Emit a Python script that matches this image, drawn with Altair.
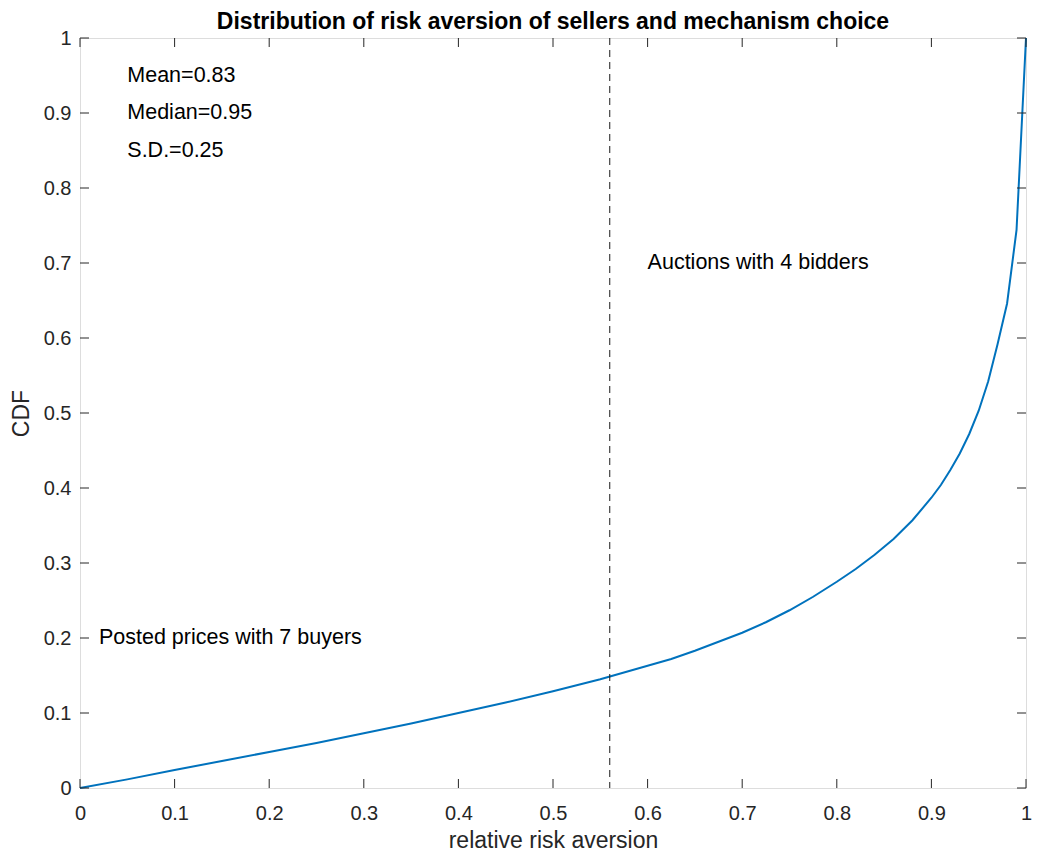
import altair as alt
import pandas as pd

# ---- data ----
risk_aversion = [0.0, 0.05, 0.10, 0.15, 0.20, 0.25, 0.30, 0.35, 0.40, 0.45, 0.50,
                 0.55, 0.60, 0.625, 0.65, 0.675, 0.70, 0.725, 0.75, 0.775, 0.80,
                 0.82, 0.84, 0.86, 0.88, 0.90, 0.91, 0.92, 0.93, 0.94, 0.95,
                 0.96, 0.97, 0.98, 0.99, 1.00]
cdf = [0.0, 0.0115, 0.024, 0.036, 0.048, 0.060, 0.073, 0.086, 0.100, 0.114, 0.129,
       0.145, 0.163, 0.172, 0.183, 0.195, 0.207, 0.221, 0.237, 0.255, 0.275,
       0.292, 0.311, 0.332, 0.357, 0.387, 0.404, 0.424, 0.446, 0.472, 0.503,
       0.542, 0.592, 0.646, 0.744, 1.0]

threshold = [0.56]

tick_values = [0.0, 0.1, 0.2, 0.3, 0.4, 0.5, 0.6, 0.7, 0.8, 0.9, 1.0]

note_text = ["Mean=0.83", "Median=0.95", "S.D.=0.25",
             "Auctions with 4 bidders", "Posted prices with 7 buyers"]
note_x = [0.05, 0.05, 0.05, 0.60, 0.02]
note_y = [0.95, 0.90, 0.85, 0.70, 0.20]

title_text = "Distribution of risk aversion of sellers and mechanism choice"
x_title = "relative risk aversion"
y_title = "CDF"

W, H = 946, 750
TICK = 9
FONT = "Liberation Sans"
GRAY = "#262626"

curve_df = pd.DataFrame({"x": risk_aversion, "y": cdf})
thr_df = pd.DataFrame({"x": threshold})
ticks_df = pd.DataFrame({"t": tick_values})
notes_df = pd.DataFrame({"label": note_text, "x": note_x, "y": note_y})

xscale = alt.Scale(domain=[0, 1], nice=False, zero=False)
yscale = alt.Scale(domain=[0, 1], nice=False, zero=False)

x_axis = alt.Axis(values=tick_values, format="~g", ticks=False, domain=False,
                  grid=False, labelFontSize=20, labelColor=GRAY, labelFont=FONT,
                  labelPadding=15, title=x_title, titleFont=FONT, titleFontSize=23,
                  titleFontWeight="normal", titleColor=GRAY, titlePadding=6,
                  labelFlush=False)
y_axis = alt.Axis(values=tick_values, format="~g", ticks=False, domain=False,
                  grid=False, labelFontSize=20, labelColor=GRAY, labelFont=FONT,
                  labelPadding=9, title=y_title, titleFont=FONT, titleFontSize=23,
                  titleFontWeight="normal", titleColor=GRAY, titlePadding=10,
                  labelFlush=False)

curve = alt.Chart(curve_df).mark_line(color="#0072BD", strokeWidth=2).encode(
    x=alt.X("x:Q", scale=xscale, axis=x_axis),
    y=alt.Y("y:Q", scale=yscale, axis=y_axis),
)

vline = alt.Chart(thr_df).mark_rule(color="#1a1a1a", strokeWidth=1, strokeDash=[7, 5]).encode(
    x=alt.X("x:Q", scale=xscale),
    y=alt.value(0),
    y2=alt.value(H),
)

bottom_ticks = alt.Chart(ticks_df).mark_rule(color=GRAY, strokeWidth=1).encode(
    x=alt.X("t:Q", scale=xscale), y=alt.value(H), y2=alt.value(H - TICK))
top_ticks = alt.Chart(ticks_df).mark_rule(color=GRAY, strokeWidth=1).encode(
    x=alt.X("t:Q", scale=xscale), y=alt.value(0), y2=alt.value(TICK))
left_ticks = alt.Chart(ticks_df).mark_rule(color=GRAY, strokeWidth=1).encode(
    y=alt.Y("t:Q", scale=yscale), x=alt.value(0), x2=alt.value(TICK))
right_ticks = alt.Chart(ticks_df).mark_rule(color=GRAY, strokeWidth=1).encode(
    y=alt.Y("t:Q", scale=yscale), x=alt.value(W), x2=alt.value(W - TICK))

notes = alt.Chart(notes_df).mark_text(
    align="left", baseline="middle", fontSize=21.5, font=FONT, color="#000000"
).encode(
    x=alt.X("x:Q", scale=xscale),
    y=alt.Y("y:Q", scale=yscale),
    text="label:N",
)

chart = alt.layer(
    curve, vline, bottom_ticks, top_ticks, left_ticks, right_ticks, notes
).properties(
    width=W,
    height=H,
    title=alt.TitleParams(title_text, font=FONT, fontSize=23, fontWeight="bold",
                          color="#000000", anchor="middle", offset=-6),
    autosize=alt.AutoSizeParams(type="none"),
    padding={"left": 72, "top": 30, "right": 6, "bottom": 63},
).configure_view(
    stroke=GRAY, strokeWidth=1
).configure(
    background="white"
)

chart.save("out.html", embed_options={"renderer": "svg", "actions": False})
